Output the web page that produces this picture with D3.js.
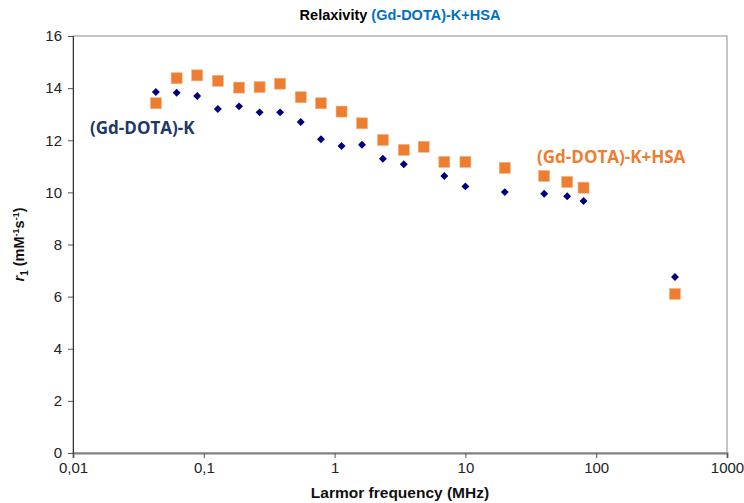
<!DOCTYPE html>
<html>
<head>
<meta charset="utf-8">
<script src="https://cdn.jsdelivr.net/npm/d3@7"></script>
<style>
  body { margin: 0; background: #fff; }
  svg { display: block; }
  .tick text { font-family: "Liberation Sans", Arial, sans-serif; font-size: 15px; fill: #222; }
</style>
</head>
<body>
<div id="chart"></div>
<script>
// Larmor frequency (MHz)
var freqK = [0.043, 0.062, 0.089, 0.128, 0.186, 0.267, 0.383, 0.551, 0.787, 1.13, 1.62, 2.34, 3.38, 6.9, 10, 20, 40, 60, 80, 400];
var r1K   = [13.85, 13.82, 13.70, 13.20, 13.30, 13.07, 13.07, 12.70, 12.04, 11.78, 11.83, 11.29, 11.08, 10.63, 10.23, 10.01, 9.95, 9.85, 9.67, 6.75];

var freqHSA = [0.043, 0.062, 0.089, 0.128, 0.186, 0.267, 0.383, 0.551, 0.787, 1.13, 1.62, 2.34, 3.38, 4.8, 6.9, 10, 20, 40, 60, 80, 400];
var r1HSA   = [13.42, 14.38, 14.49, 14.28, 14.02, 14.04, 14.17, 13.65, 13.42, 13.10, 12.65, 12.01, 11.63, 11.75, 11.17, 11.17, 10.94, 10.63, 10.40, 10.18, 6.10];

var xTicks = [0.01, 0.1, 1, 10, 100, 1000];
var xTickLabels = ["0,01", "0,1", "1", "10", "100", "1000"];
var yTicks = [0, 2, 4, 6, 8, 10, 12, 14, 16];

var W = 744, H = 503;
var margin = {top: 36, right: 17, bottom: 50, left: 73};

var svg = d3.select("#chart").append("svg")
    .attr("width", W)
    .attr("height", H);

var x = d3.scaleLog().domain([0.01, 1000]).range([margin.left, W - margin.right]);
var y = d3.scaleLinear().domain([0, 16]).range([H - margin.bottom, margin.top]);

// plot border
svg.append("rect")
    .attr("x", x(0.01)).attr("y", y(16))
    .attr("width", x(1000) - x(0.01))
    .attr("height", y(0) - y(16))
    .attr("fill", "none")
    .attr("stroke", "#8c8c8c")
    .attr("stroke-width", 1);

var xAxis = svg.append("g")
    .attr("transform", "translate(0," + y(0) + ")")
    .call(d3.axisBottom(x).tickValues(xTicks)
        .tickFormat(function(d, i) { return xTickLabels[i]; })
        .tickSize(5).tickPadding(4));
xAxis.select(".domain").attr("stroke", "#808080").attr("stroke-width", 2);
xAxis.selectAll(".tick line").attr("stroke", "#555");

var yAxis = svg.append("g")
    .attr("transform", "translate(" + x(0.01) + ",0)")
    .call(d3.axisLeft(y).tickValues(yTicks).tickSize(5).tickPadding(6));
yAxis.select(".domain").attr("stroke", "#333");
yAxis.selectAll(".tick line").attr("stroke", "#555");

// series: (Gd-DOTA)-K+HSA squares
var sq = 11;
svg.append("g").selectAll("rect")
    .data(d3.zip(freqHSA, r1HSA))
    .enter().append("rect")
    .attr("x", function(d) { return x(d[0]) - sq / 2; })
    .attr("y", function(d) { return y(d[1]) - sq / 2; })
    .attr("width", sq)
    .attr("height", sq)
    .attr("fill", "#ED7D31")
    .attr("stroke", "#F4B183")
    .attr("stroke-width", 0.6);

// series: (Gd-DOTA)-K diamonds
var diamond = d3.symbol().type(d3.symbolDiamond2).size(40);
svg.append("g").selectAll("path")
    .data(d3.zip(freqK, r1K))
    .enter().append("path")
    .attr("d", diamond)
    .attr("transform", function(d) { return "translate(" + x(d[0]) + "," + y(d[1]) + ")"; })
    .attr("fill", "#000080");

// in-plot labels
svg.append("text")
    .attr("x", 90).attr("y", 134)
    .style("font-family", "'Open Sans', sans-serif")
    .style("font-weight", "bold")
    .style("font-size", "17px")
    .attr("fill", "#1F3864")
    .text("(Gd-DOTA)-K");

svg.append("text")
    .attr("x", 537).attr("y", 163)
    .style("font-family", "'Open Sans', sans-serif")
    .style("font-weight", "bold")
    .style("font-size", "17px")
    .attr("fill", "#ED7D31")
    .text("(Gd-DOTA)-K+HSA");

// title
var title = svg.append("text")
    .attr("x", (x(0.01) + x(1000)) / 2).attr("y", 20)
    .attr("text-anchor", "middle")
    .style("font-family", "'Liberation Sans', Arial, sans-serif")
    .style("font-weight", "bold")
    .style("font-size", "14.5px");
title.append("tspan").attr("fill", "#000").text("Relaxivity ");
title.append("tspan").attr("fill", "#0070C0").text("(Gd-DOTA)-K+HSA");

// x axis label
svg.append("text")
    .attr("x", (x(0.01) + x(1000)) / 2).attr("y", 498)
    .attr("text-anchor", "middle")
    .style("font-family", "'Liberation Sans', Arial, sans-serif")
    .style("font-weight", "bold")
    .style("font-size", "15.5px")
    .attr("fill", "#111")
    .text("Larmor frequency (MHz)");

// y axis label
var ylab = svg.append("text")
    .attr("transform", "translate(24," + (y(8)) + ") rotate(-90)")
    .attr("text-anchor", "middle")
    .style("font-family", "'Liberation Sans', Arial, sans-serif")
    .style("font-weight", "bold")
    .style("font-size", "14.5px")
    .attr("fill", "#111");
ylab.append("tspan").style("font-style", "italic").text("r");
ylab.append("tspan").attr("dy", 4).style("font-size", "10px").text("1");
ylab.append("tspan").attr("dy", -4).text(" (mM");
ylab.append("tspan").attr("dy", -5).style("font-size", "9px").text("-1");
ylab.append("tspan").attr("dy", 5).text("s");
ylab.append("tspan").attr("dy", -5).style("font-size", "9px").text("-1");
ylab.append("tspan").attr("dy", 5).text(")");
</script>
</body>
</html>
